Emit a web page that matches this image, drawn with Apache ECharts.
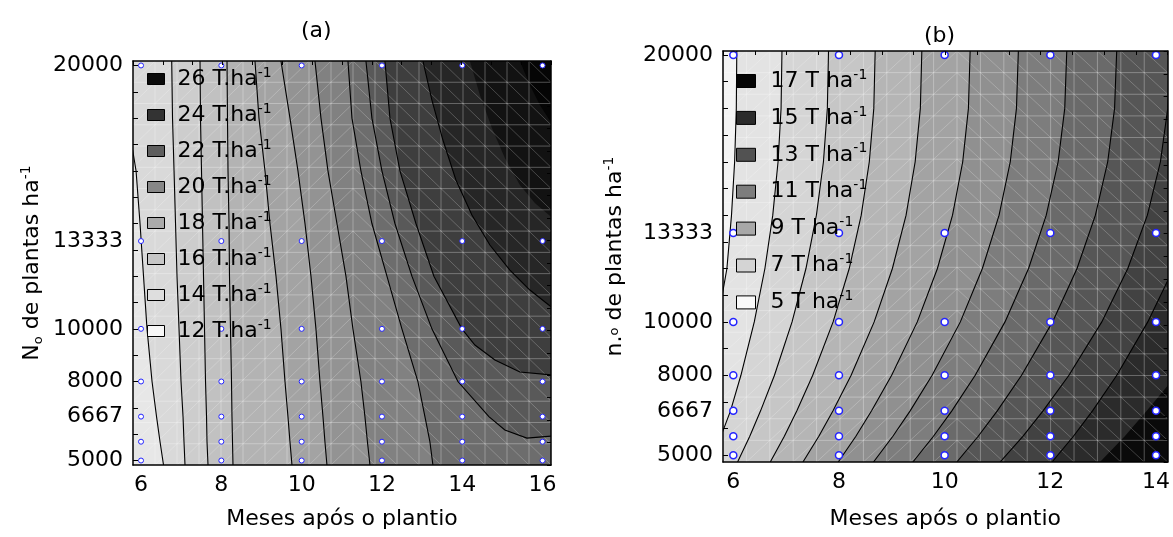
<!DOCTYPE html>
<html>
<head>
<meta charset="utf-8">
<title>Produtividade</title>
<script src="https://cdn.jsdelivr.net/npm/echarts@6/dist/echarts.min.js"></script>
<style>
  html, body { margin: 0; padding: 0; background: #fff; }
  #chart { width: 1173px; height: 537px; }
</style>
</head>
<body>
<div id="chart"></div>
<script>
const FONT = "DejaVu Sans";

// sampled points (blue markers)
const monthsA = [6, 8, 10, 12, 14, 16];
const monthsB = [6, 8, 10, 12, 14];
const plants = [5000, 5714, 6667, 8000, 10000, 13333, 20000];

// axis tick labels
const monthLabelsA = [6, 8, 10, 12, 14, 16];
const monthLabelsB = [6, 8, 10, 12, 14];
const plantLabels = [5000, 6667, 8000, 10000, 13333, 20000];
const plantTicks = [5000, 6000, 7000, 8000, 9000, 10000, 11000, 12000, 13000,
  14000, 15000, 16000, 17000, 18000, 19000, 20000];

// legends
const levelsA = ["26 T.ha", "24 T.ha", "22 T.ha", "20 T.ha", "18 T.ha", "16 T.ha", "14 T.ha", "12 T.ha"];
const levelColorsA = ["#0a0a0a", "#333333", "#5e5e5e", "#878787", "#aaaaaa", "#c6c6c6", "#dedede", "#f7f7f7"];
const levelsB = ["17 T ha", "15 T ha", "13 T ha", "11 T ha", "9 T ha", "7 T ha", "5 T ha"];
const levelColorsB = ["#050505", "#2b2b2b", "#525252", "#7d7d7d", "#a8a8a8", "#d4d4d4", "#f9f9f9"];

// contour lines of (a), [meses, plantas], left to right
const contoursA = [
  [[5.79, 16800], [5.876, 16000], [5.975, 14000], [6.062, 12000], [6.149, 10000], [6.274, 8000], [6.386, 6667], [6.473, 5714], [6.560, 4830]],
  [[6.764, 20170], [6.784, 18000], [6.822, 16000], [6.859, 14000], [6.896, 12000], [6.946, 10000], [6.996, 8000], [7.046, 6667], [7.070, 5714], [7.095, 4830]],
  [[7.469, 20170], [7.481, 18000], [7.506, 16000], [7.531, 14000], [7.556, 12000], [7.581, 10000], [7.606, 8000], [7.631, 6667], [7.643, 5714], [7.668, 4830]],
  [[8.141, 20170], [8.153, 18000], [8.166, 16000], [8.191, 14000], [8.203, 12000], [8.228, 10000], [8.253, 8000], [8.265, 6667], [8.278, 5714], [8.290, 4830]],
  [[8.838, 20170], [8.937, 18000], [9.087, 16000], [9.211, 14000], [9.361, 12000], [9.485, 10000], [9.585, 8000], [9.659, 6667], [9.709, 5714], [9.759, 4830]],
  [[9.485, 20170], [9.709, 18000], [9.908, 16000], [10.083, 14000], [10.232, 12000], [10.356, 10000], [10.456, 8000], [10.531, 6667], [10.580, 5714], [10.630, 4830]],
  [[10.332, 20170], [10.481, 18000], [10.655, 16000], [10.879, 14000], [11.103, 12000], [11.277, 10000], [11.476, 8000], [11.576, 6667], [11.638, 5714], [11.701, 4830]],
  [[11.153, 20170], [11.253, 18000], [11.476, 16000], [11.750, 14000], [12.124, 12000], [12.497, 10000], [12.895, 8000], [13.070, 6667], [13.194, 5714], [13.269, 4830]],
  [[11.601, 20170], [11.750, 18000], [11.999, 16000], [12.323, 14000], [12.746, 12000], [13.244, 10000], [13.891, 8000], [14.663, 6667], [15.061, 6160], [15.609, 5850], [16.25, 5930]],
  [[12.074, 20170], [12.199, 18000], [12.448, 16000], [12.846, 14000], [13.294, 12000], [13.991, 10000], [14.315, 9386], [14.813, 8816], [15.435, 8360], [16.25, 8246]],
  [[13.020, 20170], [13.244, 18688], [13.518, 17169], [13.842, 15650], [14.240, 14321], [14.688, 13182], [15.186, 12233], [15.684, 11474], [16.25, 10790]],
  // shading steps without a drawn line
  [[14.190, 20170], [14.439, 18878], [14.738, 17625], [15.061, 16486], [15.435, 15461], [15.808, 14777], [16.25, 14208]],
  [[15.435, 20170], [15.684, 19258], [15.933, 18498], [16.25, 17739]]
];
const strokedA = 11;
// first colour = left-most band, then the band on the far side of each contour
const bandColorsA = ["#e7e7e7", "#d9d9d9", "#cdcdcd", "#c1c1c1", "#b3b3b3", "#a3a3a3", "#939393",
  "#818181", "#6d6d6d", "#595959", "#3e3e3e", "#262626", "#121212", "#050505"];

// contour lines of (b)
const contoursB = [
  [[6.066, 20150], [6.057, 18000], [6.025, 16000], [5.966, 14000], [5.879, 12000], [5.79, 11000]],
  [[6.921, 20150], [6.904, 18000], [6.847, 16000], [6.747, 14000], [6.598, 12000], [6.397, 10000], [6.144, 8000], [5.947, 6667], [5.79, 5840]],
  [[7.802, 20150], [7.780, 18000], [7.706, 16000], [7.573, 14000], [7.375, 12000], [7.112, 10000], [6.779, 8000], [6.516, 6667], [6.312, 5714], [6.081, 4750]],
  [[8.685, 20150], [8.659, 18000], [8.574, 16000], [8.421, 14000], [8.194, 12000], [7.889, 10000], [7.503, 8000], [7.203, 6667], [6.966, 5714], [6.700, 4750]],
  [[9.568, 20150], [9.540, 18000], [9.442, 16000], [9.270, 14000], [9.011, 12000], [8.666, 10000], [8.230, 8000], [7.887, 6667], [7.619, 5714], [7.318, 4750]],
  [[10.482, 20150], [10.450, 18000], [10.342, 16000], [10.149, 14000], [9.863, 12000], [9.482, 10000], [8.997, 8000], [8.617, 6667], [8.320, 5714], [7.986, 4750]],
  [[11.395, 20150], [11.359, 18000], [11.242, 16000], [11.030, 14000], [10.714, 12000], [10.297, 10000], [9.763, 8000], [9.347, 6667], [9.020, 5714], [8.653, 4750]],
  [[12.311, 20150], [12.273, 18000], [12.148, 16000], [11.923, 14000], [11.588, 12000], [11.142, 10000], [10.578, 8000], [10.136, 6667], [9.788, 5714], [9.398, 4750]],
  [[13.256, 20150], [13.216, 18000], [13.086, 16000], [12.853, 14000], [12.505, 12000], [12.042, 10000], [11.456, 8000], [10.996, 6667], [10.635, 5714], [10.230, 4750]],
  [[14.262, 20150], [14.222, 18000], [14.084, 16000], [13.837, 14000], [13.466, 12000], [12.974, 10000], [12.352, 8000], [11.862, 6667], [11.480, 5714], [11.049, 4750]],
  [[14.24, 11620], [13.844, 10000], [13.258, 8000], [12.798, 6667], [12.437, 5714], [12.032, 4750]],
  // shading step without a drawn line
  [[14.24, 7660], [13.825, 6667], [13.409, 5714], [12.940, 4750]]
];
const strokedB = 11;
const bandColorsB = ["#f4f4f4", "#e3e3e3", "#d5d5d5", "#c6c6c6", "#b5b5b5", "#a3a3a3", "#909090",
  "#7d7d7d", "#6a6a6a", "#565656", "#424242", "#2b2b2b", "#0a0a0a"];

const RANGE_A = { x: [5.8, 16.21], y: [4830, 20170] };
const RANGE_B = { x: [5.805, 14.22], y: [4750, 20150] };

const chart = echarts.init(document.getElementById("chart"));

function edgeOf(p, r) {
  const ex = (r.x[1] - r.x[0]) * 0.002, ey = (r.y[1] - r.y[0]) * 0.002;
  if (p[1] >= r.y[1] - ey) return "top";
  if (p[1] <= r.y[0] + ey) return "bottom";
  if (p[0] <= r.x[0] + ex) return "left";
  return "right";
}

// polygon covering the darker side of a contour (walks the frame back to the start)
function darkSide(line, r) {
  const corner = {
    bottom: [r.x[1] + 1, r.y[0] - 2000],
    right: [r.x[1] + 1, r.y[1] + 2000],
    top: [r.x[0] - 1, r.y[1] + 2000],
    left: [r.x[0] - 1, r.y[0] - 2000]
  };
  const order = ["bottom", "right", "top", "left"];
  const start = edgeOf(line[0], r);
  let i = order.indexOf(edgeOf(line[line.length - 1], r));
  const pts = line.slice();
  for (let g = 0; g < 4 && order[i] !== start; g++) {
    pts.push(corner[order[i]]);
    i = (i + 1) % 4;
  }
  return pts;
}

function fillSeries(lines, colors, r, ax) {
  return {
    type: "custom", xAxisIndex: ax, yAxisIndex: ax, clip: true, silent: true, z: 1,
    data: lines.map((l, i) => [i, i]),
    renderItem: (params, api) => {
      const i = api.value(0);
      return {
        type: "polygon",
        shape: { points: darkSide(lines[i], r).map(p => api.coord(p)) },
        style: { fill: colors[i + 1] }
      };
    }
  };
}

function strokeSeries(lines, count, ax) {
  return {
    type: "custom", xAxisIndex: ax, yAxisIndex: ax, clip: true, silent: true, z: 3,
    data: lines.slice(0, count).map((l, i) => [i, i]),
    renderItem: (params, api) => {
      const i = api.value(0);
      return {
        type: "polyline",
        shape: { points: lines[i].map(p => api.coord(p)) },
        style: { stroke: "#000", lineWidth: 1.1, fill: null }
      };
    }
  };
}

// the white triangulated mesh drawn over the surface
function meshSeries(r, ax) {
  return {
    type: "custom", xAxisIndex: ax, yAxisIndex: ax, clip: true, silent: true, z: 2,
    data: [[0, 0]],
    renderItem: (params, api) => {
      const n = 19, kids = [];
      const dx = (r.x[1] - r.x[0]) / n, dy = (r.y[1] - r.y[0]) / n;
      const seg = (a, b, op) => {
        const p = api.coord(a), q = api.coord(b);
        kids.push({ type: "line", shape: { x1: p[0], y1: p[1], x2: q[0], y2: q[1] },
          style: { stroke: "rgba(255,255,255," + op + ")", lineWidth: 1 } });
      };
      for (let k = 1; k < n; k++) {
        seg([r.x[0] + k * dx, r.y[0]], [r.x[0] + k * dx, r.y[1]], 0.3);
        seg([r.x[0], r.y[0] + k * dy], [r.x[1], r.y[0] + k * dy], 0.3);
      }
      for (let i = 0; i < n; i++) {
        for (let j = 0; j < n; j++) {
          const xa = r.x[0] + i * dx, xb = xa + dx, ya = r.y[0] + j * dy, yb = ya + dy;
          if (i < 10) seg([xa, ya], [xb, yb], 0.22);
          else seg([xa, yb], [xb, ya], 0.22);
        }
      }
      return { type: "group", children: kids };
    }
  };
}

function dots(months, ax, size, bw) {
  const data = [];
  months.forEach(m => plants.forEach(p => data.push([m, p])));
  return {
    type: "scatter", xAxisIndex: ax, yAxisIndex: ax, z: 5, silent: true,
    symbol: "circle", symbolSize: size, data: data,
    itemStyle: { color: "#ffffff", borderColor: "#2424ff", borderWidth: bw, opacity: 1 }
  };
}

function legendDummies(names, colors, ax) {
  return names.map((n, i) => ({
    type: "scatter", name: n, xAxisIndex: ax, yAxisIndex: ax, data: [],
    itemStyle: { color: colors[i], borderColor: "#000", borderWidth: 1, opacity: 1 }
  }));
}

const txt = { fontFamily: FONT, fontSize: 22, color: "#000" };
const frame = { show: true, lineStyle: { color: "#000", width: 1.5 } };
const plain = v => String(v);

function mainX(grid, r, labels, gap) {
  return {
    gridIndex: grid, type: "value", min: r.x[0], max: r.x[1], z: 8,
    axisLine: frame, axisTick: { show: false }, splitLine: { show: false },
    axisLabel: Object.assign({ customValues: labels, margin: 9, formatter: plain }, txt),
    name: "Meses após o plantio", nameLocation: "middle", nameGap: gap, nameTextStyle: txt
  };
}
function sideX(grid) {
  return {
    gridIndex: grid, type: "value", position: "top", min: 0, max: 14, interval: 1, z: 8,
    axisLine: frame, axisTick: { inside: true, length: 4, lineStyle: { color: "#000" } },
    axisLabel: { show: false }, splitLine: { show: false }
  };
}
function mainY(grid, r, name, rich, gap) {
  return {
    gridIndex: grid, type: "value", min: r.y[0], max: r.y[1], z: 8,
    axisLine: frame, splitLine: { show: false },
    axisTick: { customValues: plantTicks, inside: true, length: 5, lineStyle: { color: "#000" } },
    axisLabel: Object.assign({ customValues: plantLabels, margin: 10, formatter: plain }, txt),
    name: name, nameLocation: "middle", nameRotate: 90, nameGap: gap,
    nameTextStyle: Object.assign({ rich: rich }, txt)
  };
}
function sideY(grid) {
  return {
    gridIndex: grid, type: "value", position: "right", min: 0, max: 18, interval: 1, z: 8,
    axisLine: frame, axisTick: { inside: true, length: 4, lineStyle: { color: "#000" } },
    axisLabel: { show: false }, splitLine: { show: false }
  };
}

const nameRich = {
  n: { fontFamily: FONT, fontSize: 22, lineHeight: 26, color: "#000" },
  o: { fontFamily: FONT, fontSize: 13, lineHeight: 26, color: "#000", verticalAlign: "bottom" },
  m: { fontFamily: FONT, fontSize: 13, lineHeight: 26, color: "#000", verticalAlign: "middle" },
  s: { fontFamily: FONT, fontSize: 14, lineHeight: 26, color: "#000", verticalAlign: "top" }
};

function legend(names, left, top, w, h, gap, pad) {
  return {
    orient: "vertical", left: left, top: top, padding: 0, itemGap: gap, z: 9,
    itemWidth: w, itemHeight: h, icon: "rect", selectedMode: false,
    itemStyle: { borderColor: "#000", borderWidth: 1, opacity: 1 },
    data: names,
    formatter: n => "{a|" + n + "}{s|-1}",
    textStyle: {
      padding: [0, 0, 0, pad],
      rich: {
        a: { fontFamily: FONT, fontSize: 22, lineHeight: 26, color: "#000" },
        s: { fontFamily: FONT, fontSize: 14, lineHeight: 26, color: "#000", verticalAlign: "top" }
      }
    }
  };
}

const option = {
  backgroundColor: "#ffffff",
  animation: false,
  title: [
    { text: "(a)", left: 301, top: 20, padding: 0, textStyle: Object.assign({ fontWeight: "normal" }, txt) },
    { text: "(b)", left: 924, top: 25, padding: 0, textStyle: Object.assign({ fontWeight: "normal" }, txt) }
  ],
  grid: [
    { left: 133, top: 61, width: 418, height: 404, show: true, borderWidth: 0, backgroundColor: bandColorsA[0] },
    { left: 723, top: 51, width: 445, height: 411, show: true, borderWidth: 0, backgroundColor: bandColorsB[0] }
  ],
  xAxis: [mainX(0, RANGE_A, monthLabelsA, 43), mainX(1, RANGE_B, monthLabelsB, 46), sideX(0), sideX(1)],
  yAxis: [
    mainY(0, RANGE_A, "{n|N}{o|o}{n| de plantas ha}{s|-1}", nameRich, 88),
    mainY(1, RANGE_B, "{n|n.}{m|o}{n| de plantas ha}{s|-1}", nameRich, 95),
    sideY(0), sideY(1)
  ],
  legend: [
    legend(levelsA, 147, 66, 17, 11, 12, 8),
    legend(levelsB, 736, 68, 19, 13, 12.9, 10)
  ],
  series: [
    fillSeries(contoursA, bandColorsA, RANGE_A, 0),
    fillSeries(contoursB, bandColorsB, RANGE_B, 1),
    meshSeries(RANGE_A, 0),
    meshSeries(RANGE_B, 1),
    strokeSeries(contoursA, strokedA, 0),
    strokeSeries(contoursB, strokedB, 1),
    dots(monthsA, 0, 5, 1),
    dots(monthsB, 1, 7, 1.5)
  ].concat(legendDummies(levelsA, levelColorsA, 0), legendDummies(levelsB, levelColorsB, 1))
};

chart.setOption(option);
</script>
</body>
</html>
